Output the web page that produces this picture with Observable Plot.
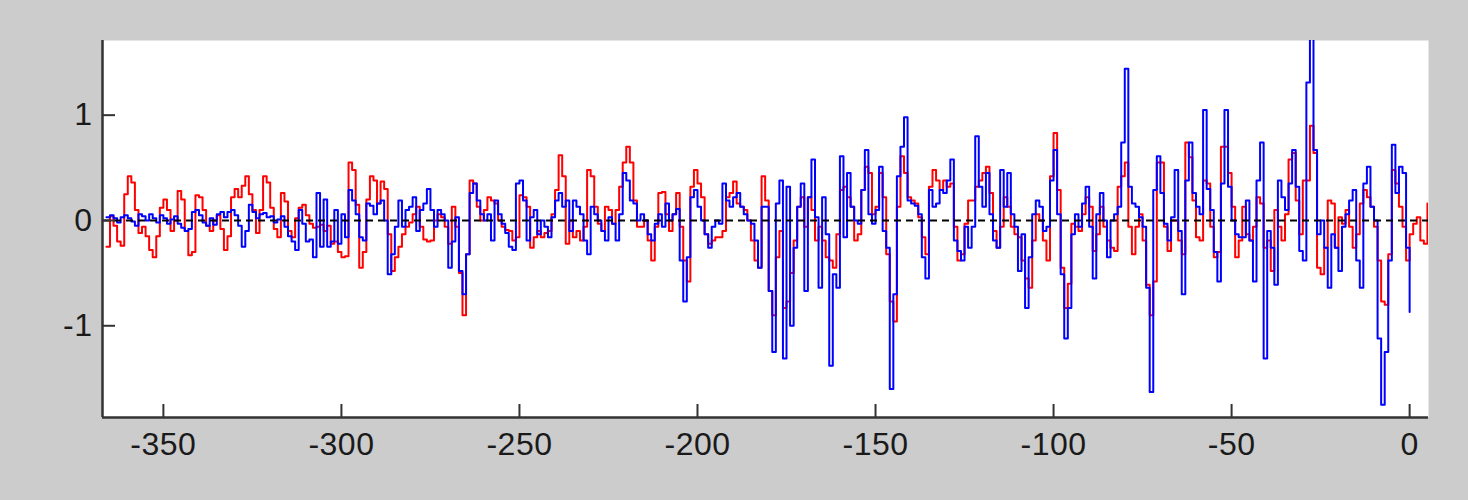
<!DOCTYPE html>
<html>
<head>
<meta charset="utf-8">
<script src="https://cdn.jsdelivr.net/npm/d3@7"></script>
<script src="https://cdn.jsdelivr.net/npm/@observablehq/plot@0.6"></script>
<style>
  html, body { margin: 0; padding: 0; background: #cccccc; }
</style>
</head>
<body>
<div id="chart"></div>
<script>
// day offsets: both series start at day -366, one value per day
const firstDay = -366

// red series, days -366 .. 5
const redValues = [
  -0.25, 0.04, -0.05, -0.2, -0.24, 0.25, 0.42, 0.36, 0.1, -0.12,
  -0.06, -0.15, -0.28, -0.35, -0.15, 0.12, 0.2, 0.1, -0.1, 0.0,
  0.28, 0.2, -0.1, -0.33, -0.3, 0.24, 0.22, 0.1, -0.05, -0.1,
  0.0, 0.05, -0.08, -0.28, -0.15, 0.22, 0.3, 0.22, 0.33, 0.42,
  0.25, 0.1, -0.12, 0.1, 0.42, 0.36, 0.12, -0.08, -0.16, 0.26,
  0.18, -0.1, -0.16, 0.02, 0.12, 0.15, 0.05, -0.03, -0.07, -0.06,
  -0.04,
  -0.1, -0.05, -0.22, -0.2, -0.3, -0.35, -0.34, 0.55, 0.48, 0.15,
  -0.45, -0.3, 0.2, 0.42, 0.38, 0.16, 0.37, 0.3, -0.13, -0.48,
  -0.35, -0.25, -0.13, -0.06, -0.02, 0.06, 0.13, -0.06, -0.18, -0.2,
  -0.19, 0.0, 0.06, 0.03, -0.06, -0.22, 0.13, -0.06, -0.5, -0.9,
  -0.32, 0.38, 0.35, 0.13, 0.0, 0.1, 0.22, 0.19, 0.16, 0.0,
  -0.06, -0.09, -0.1, -0.19, -0.16, 0.24, 0.22, 0.13, -0.26, -0.16,
  -0.1, -0.16, -0.12,
  -0.1, 0.06, 0.29, 0.62, 0.42, -0.22, 0.0, -0.16, -0.1, -0.19,
  -0.06, 0.48, 0.42, 0.13, -0.03, -0.1, 0.13, 0.1, -0.03, 0.1,
  0.32, 0.55, 0.7, 0.55, 0.19, -0.06, -0.06, 0.0, -0.19, -0.38,
  -0.06, 0.26, 0.27, 0.06, -0.1, 0.06, 0.26, -0.06, -0.38, -0.58,
  0.32, 0.48, 0.35, 0.22, -0.13, -0.22, -0.19, -0.16, -0.16, -0.1,
  0.22, 0.26, 0.37, 0.16, 0.13, 0.1, 0.0, -0.19, -0.38, -0.45,
  0.42, 0.19,
  -0.67, -0.9, -0.35, -0.1, -0.83, -0.77, -0.5, -0.19, 0.13, 0.22,
  -0.06, 0.22, 0.1, -0.19, -0.06, -0.19, -0.35, -0.38, -0.45, -0.13,
  0.29, 0.32, 0.22, 0.13, -0.19, -0.13, 0.29, 0.51, 0.45, 0.06,
  0.13, 0.45, 0.22, -0.32, -0.77, -0.96, 0.13, 0.61, 0.45, 0.22,
  0.19, 0.16, 0.03, -0.16, -0.32, 0.32, 0.48, 0.38, 0.29, 0.38,
  0.32, 0.35, -0.06, -0.38, -0.32, -0.03, 0.19, 0.19, 0.32, 0.38,
  0.45, 0.51,
  0.26, -0.1, -0.26, -0.06, 0.22, 0.13, -0.06, -0.13, -0.16, -0.38,
  -0.55, -0.64, -0.19, 0.06, 0.0, -0.19, -0.38, 0.42, 0.83, 0.29,
  -0.45, -0.83, -0.6, -0.03, -0.06, -0.1, 0.06, 0.22, 0.13, -0.29,
  -0.13, 0.13, -0.06, -0.19, -0.26, -0.29, 0.32, 0.42, 0.55, -0.06,
  -0.32, -0.06, 0.06, -0.19, -0.61, -0.9, -0.58, 0.55, 0.55, -0.06,
  -0.29, 0.0, 0.0, -0.19, -0.32, 0.74, 0.6, 0.19, -0.16, -0.19,
  0.38, 0.35,
  -0.06, -0.35, -0.3, 0.7, 0.7, 0.45, 0.13, -0.35, -0.19, 0.13,
  -0.13, -0.19, -0.06, 0.22, 0.16, -0.26, -0.19, -0.48, 0.1, -0.06,
  -0.19, 0.06, 0.58, 0.64, 0.19, -0.13, 0.38, 0.38, 0.9, 0.64,
  -0.45, -0.51, -0.26, 0.19, 0.16, -0.26, 0.03, -0.03, 0.1, -0.06,
  -0.26, -0.13, 0.16, 0.29, 0.22, 0.13, -0.06, -0.38, -0.77, -0.8,
  -0.32, 0.48, 0.35, 0.13, -0.06, -0.38, -0.13, -0.03, 0.03, -0.19,
  -0.22, 0.16
]

// blue series, days -366 .. 0
const blueValues = [
  0.03, 0.05, 0.02, -0.02, 0.03, 0.05, 0.02, -0.01, -0.05, 0.06,
  0.04, 0.0, 0.06, 0.02, -0.02, 0.05, 0.02, -0.03, 0.01, 0.04,
  -0.03, -0.07, -0.1, -0.08, 0.08, 0.1, 0.05, -0.02, -0.05, 0.02,
  -0.04, 0.06, 0.08, 0.03, 0.08, 0.1, 0.05, -0.05, -0.25, -0.1,
  0.15, 0.08, 0.02, 0.06, 0.07, 0.03, 0.04, -0.02, 0.01, 0.04,
  -0.06, -0.15, -0.2, -0.28, 0.1, -0.03, -0.2, -0.18, -0.35, 0.26,
  -0.25,
  0.2, -0.25, -0.2, 0.1, -0.22, 0.06, -0.16, 0.29, 0.19, 0.06,
  -0.16, -0.19, 0.16, 0.14, 0.06, 0.16, 0.19, 0.0, -0.51, -0.32,
  -0.06, 0.19, -0.06, 0.1, 0.13, 0.22, -0.1, 0.1, 0.16, 0.3,
  0.1, -0.06, 0.1, 0.06, 0.0, -0.45, -0.2, 0.03, -0.48, -0.7,
  -0.32, 0.26, 0.35, 0.19, 0.06, 0.0, 0.06, -0.19, 0.19, 0.06,
  -0.03, -0.12, -0.25, -0.28, 0.35, 0.38, 0.19, -0.19, 0.03, 0.1,
  -0.13, 0.0, -0.06,
  -0.16, 0.03, 0.19, 0.26, 0.13, 0.19, -0.1, 0.19, 0.13, 0.06,
  -0.19, -0.32, 0.13, 0.06, 0.0, -0.1, -0.19, 0.03, -0.03, -0.19,
  0.06, 0.45, 0.38, 0.19, 0.16, 0.0, 0.06, 0.0, -0.13, -0.19,
  -0.03, 0.06, -0.06, 0.16, 0.0, 0.06, 0.11, -0.38, -0.77, -0.35,
  0.22, 0.29, 0.13, 0.0, -0.13, -0.26, -0.06, 0.0, -0.03, 0.35,
  0.19, 0.13, 0.22, 0.26, 0.13, 0.06, 0.0, -0.03, -0.19, -0.45,
  0.13, 0.13,
  -0.67, -1.25, 0.16, 0.38, -1.31, 0.32, -1.0, -0.26, 0.13, 0.35,
  -0.67, 0.22, 0.58, 0.03, -0.64, 0.22, -0.13, -1.38, -0.51, -0.64,
  0.61, -0.16, 0.45, 0.13, 0.0, -0.03, 0.29, 0.67, 0.06, -0.03,
  0.1, 0.51, -0.1, -0.26, -1.6, -0.7, 0.42, 0.7, 0.98, 0.19,
  0.16, 0.14, 0.06, -0.35, -0.55, 0.29, 0.13, 0.16, 0.29, 0.26,
  0.38, 0.58, -0.19, -0.29, -0.38, -0.06, -0.26, -0.06, 0.8, 0.32,
  0.13, 0.45,
  0.06, -0.19, -0.26, 0.48, 0.13, 0.45, 0.06, -0.06, -0.48, -0.13,
  -0.83, -0.35, 0.06, 0.19, 0.13, -0.1, -0.06, 0.38, 0.67, 0.06,
  -0.51, -1.12, -0.83, -0.13, 0.06, -0.06, 0.16, 0.32, -0.06, -0.55,
  0.06, 0.26, 0.0, -0.35, 0.0, 0.06, 0.13, 0.74, 1.44, 0.32,
  0.16, 0.13, 0.03, -0.06, -0.64, -1.63, 0.29, 0.61, 0.26, -0.03,
  -0.19, 0.03, 0.48, -0.1, -0.7, 0.38, 0.74, 0.26, 0.13, 0.06,
  1.05, 0.3,
  0.1, -0.3, -0.58, 0.35, 1.05, 0.32, 0.0, -0.13, -0.16, -0.16,
  0.19, -0.19, -0.58, 0.38, 0.74, -1.31, -0.1, -0.26, -0.61, 0.38,
  0.22, 0.1, 0.35, 0.67, 0.32, -0.29, -0.38, 1.31, 1.75, 0.67,
  -0.13, 0.0, -0.26, -0.64, -0.13, -0.26, -0.48, -0.06, 0.06, 0.19,
  0.29, -0.38, -0.64, 0.35, 0.51, 0.13, 0.0, -1.12, -1.75, -1.25,
  -0.38, 0.72, 0.26, 0.51, 0.45, -0.26, -0.87
]

const xTicks = [-350, -300, -250, -200, -150, -100, -50, 0]
const yTicks = [-1, 0, 1]
const xDomain = [-367.1, 5.3]
const yDomain = [-1.871, 1.709]

const red = redValues.map((v, i) => ({day: firstDay + i, value: v}))
const blue = blueValues.map((v, i) => ({day: firstDay + i, value: v}))

const W = 1468, H = 500
const mL = 102, mR = 40, mT = 40, mB = 83
const tickLen = 13
const axisColor = "#333333"

const chart = Plot.plot({
  width: W,
  height: H,
  marginLeft: mL,
  marginRight: mR,
  marginTop: mT,
  marginBottom: mB,
  style: {
    background: "#cccccc",
    fontFamily: "'Liberation Sans', Arial, sans-serif",
    fontSize: "32px",
    letterSpacing: "0.5px",
    color: "#1a1a1a"
  },
  x: {domain: xDomain, label: null},
  y: {domain: yDomain, label: null},
  marks: [
    Plot.frame({fill: "white", stroke: null}),
    Plot.lineY(red, {x: "day", y: "value", stroke: "#ff0000", strokeWidth: 2, curve: "step-after", clip: true}),
    Plot.lineY(blue, {x: "day", y: "value", stroke: "#0000ff", strokeWidth: 2, curve: "step-after", clip: true}),
    Plot.ruleY([0], {stroke: "black", strokeWidth: 2, strokeDasharray: "7,5"}),
    // axis lines on the left and bottom edges
    Plot.ruleX([xDomain[0]], {stroke: axisColor, strokeWidth: 2.5}),
    Plot.ruleY([yDomain[0]], {stroke: axisColor, strokeWidth: 2.5}),
    // inward ticks
    Plot.tickY(yTicks, {y: d => d, insetRight: W - mL - mR - tickLen, stroke: axisColor, strokeWidth: 2}),
    Plot.tickX(xTicks, {x: d => d, insetTop: H - mT - mB - tickLen, stroke: axisColor, strokeWidth: 2}),
    Plot.axisY(yTicks, {tickSize: 0, tickPadding: 10, tickFormat: d => String(d), fontSize: 32, label: null}),
    Plot.axisX(xTicks, {tickSize: 0, tickPadding: 15, tickFormat: d => String(d), fontSize: 32, label: null})
  ]
})

d3.select('#chart').append(() => chart)
</script>
</body>
</html>
